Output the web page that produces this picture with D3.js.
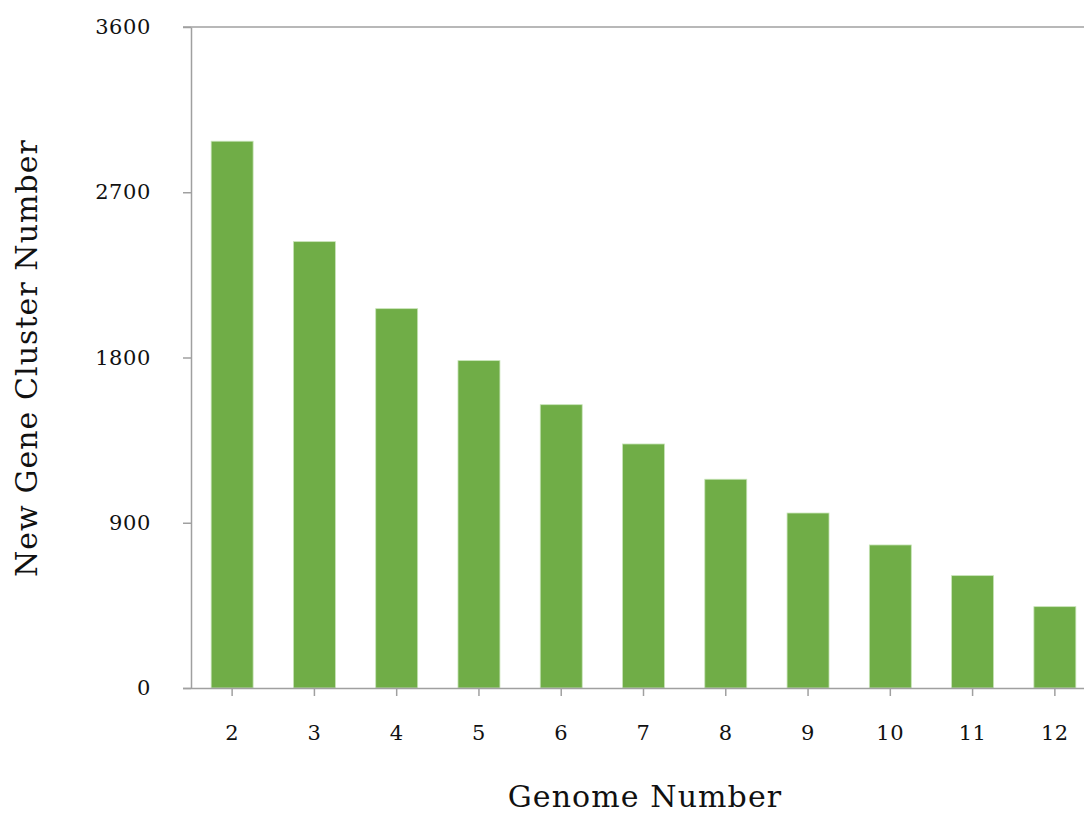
<!DOCTYPE html>
<html>
<head>
<meta charset="utf-8">
<script src="https://cdn.jsdelivr.net/npm/d3@7"></script>
<style>
html,body{margin:0;padding:0;background:#fff;}
svg{display:block;}
</style>
</head>
<body>
<svg id="chart" width="1084" height="815"></svg>
<script>
const categories = ["2","3","4","5","6","7","8","9","10","11","12"];
const values = [2978, 2431, 2066, 1783, 1543, 1329, 1137, 953, 779, 612, 443];
const yTicks = [0, 900, 1800, 2700, 3600];
const xTitle = "Genome Number";
const yTitle = "New Gene Cluster Number";

(function(){
const svg = d3.select("#chart");
const mLeft = 191, mRight = 1096, mTop = 27, mBottom = 688;
const font = "'DejaVu Serif', serif";
const axisColor = "#a0a0a0";

const x = d3.scaleBand().domain(categories).range([mLeft, mRight]).paddingInner(0.49).paddingOuter(0.245);
const y = d3.scaleLinear().domain([0, 3600]).range([mBottom, mTop]);

// bars
svg.append("g").selectAll("rect").data(values).join("rect")
  .attr("x", (d,i) => x(categories[i]))
  .attr("y", d => y(d))
  .attr("width", x.bandwidth())
  .attr("height", d => y(0) - y(d))
  .attr("fill", "#70ad47")
  .attr("stroke", "#c8e4b8")
  .attr("stroke-width", 0.8);

// top border line at 3600
svg.append("line")
  .attr("x1", mLeft - 8).attr("x2", mRight)
  .attr("y1", y(3600)).attr("y2", y(3600))
  .attr("stroke", axisColor).attr("stroke-width", 1.5);

// y axis
const yAxis = svg.append("g").attr("transform", `translate(${mLeft},0)`)
  .call(d3.axisLeft(y).tickValues(yTicks).tickFormat(d3.format("d")).tickSize(8).tickPadding(32).tickSizeOuter(0));
yAxis.select(".domain").attr("stroke", axisColor).attr("stroke-width", 1.5);
yAxis.selectAll(".tick line").attr("stroke", axisColor).attr("stroke-width", 1.5);
yAxis.selectAll(".tick text").attr("font-family", font).attr("font-size", 21)
  .attr("letter-spacing", "0.6px").attr("fill", "#111");

// x axis
const xAxis = svg.append("g").attr("transform", `translate(0,${mBottom})`)
  .call(d3.axisBottom(x).tickSize(8).tickPadding(29).tickSizeOuter(0));
xAxis.select(".domain").attr("stroke", axisColor).attr("stroke-width", 1.5)
  .attr("d", `M${mLeft-8},0.5H${mRight}`);
xAxis.selectAll(".tick line").attr("stroke", axisColor).attr("stroke-width", 1.5);
xAxis.selectAll(".tick text").attr("font-family", font).attr("font-size", 21)
  .attr("letter-spacing", "0.6px").attr("fill", "#111");

// titles
svg.append("text")
  .attr("x", 645).attr("y", 807)
  .attr("text-anchor", "middle")
  .attr("font-family", font).attr("font-size", 30).attr("letter-spacing", "1.1px").attr("fill", "#111")
  .text(xTitle);

svg.append("text")
  .attr("transform", "translate(37,358) rotate(-90)")
  .attr("text-anchor", "middle")
  .attr("font-family", font).attr("font-size", 30).attr("letter-spacing", "1.05px").attr("fill", "#111")
  .text(yTitle);
})();
</script>
</body>
</html>
